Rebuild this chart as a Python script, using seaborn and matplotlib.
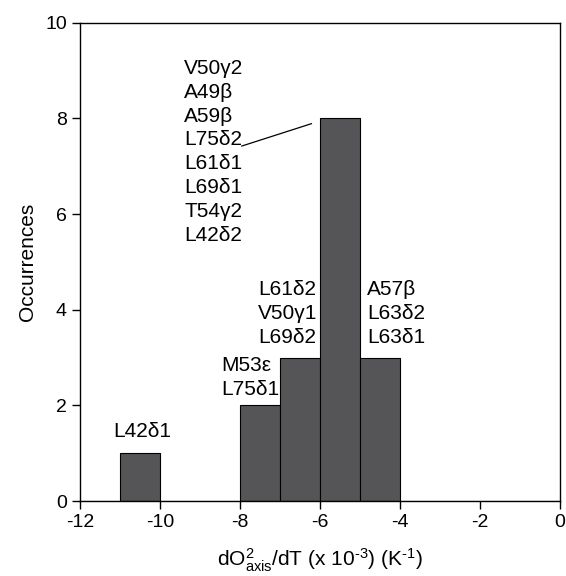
import numpy as np
import pandas as pd
import matplotlib
matplotlib.use("Agg")
import matplotlib.pyplot as plt
import seaborn as sns

# ---- data ----
bin_centers = [-10.5, -7.5, -6.5, -5.5, -4.5]
counts = [1, 2, 3, 8, 3]
bin_edges = list(range(-12, 1))
x_ticks = [-12, -10, -8, -6, -4, -2, 0]
y_ticks = [0, 2, 4, 6, 8, 10]

label_l42 = ["L42\u03b41"]
label_m53 = ["M53\u03b5", "L75\u03b41"]
label_l61 = ["L61\u03b42", "V50\u03b31", "L69\u03b42"]
label_main = ["V50\u03b32", "A49\u03b2", "A59\u03b2", "L75\u03b42",
              "L61\u03b41", "L69\u03b41", "T54\u03b32", "L42\u03b42"]
label_a57 = ["A57\u03b2", "L63\u03b42", "L63\u03b41"]

df = pd.DataFrame({"x": bin_centers, "n": counts})

sns.set_style("ticks")
plt.rcParams["font.family"] = ["Liberation Sans", "DejaVu Sans"]
plt.rcParams["axes.unicode_minus"] = False
plt.rcParams["mathtext.fontset"] = "custom"
plt.rcParams["mathtext.rm"] = "Liberation Sans"
plt.rcParams["mathtext.it"] = "Liberation Sans"
plt.rcParams["text.color"] = "black"
plt.rcParams["axes.labelcolor"] = "black"
plt.rcParams["xtick.color"] = "black"
plt.rcParams["ytick.color"] = "black"

fig = plt.figure(figsize=(5.66, 5.76), dpi=100)
ax = fig.add_axes([80 / 566, 1 - 501 / 576, 480 / 566, (501 - 22.7) / 576])

sns.histplot(data=df, x="x", weights="n", bins=bin_edges, ax=ax,
             color="#555557", edgecolor="black", linewidth=0.8, alpha=1)

ax.set_xlim(-12, 0)
ax.set_ylim(0, 10)
ax.set_xticks(x_ticks)
ax.set_yticks(y_ticks)
ax.tick_params(direction="out", length=6, width=1, labelsize=14,
               color="black", labelcolor="black")
for s in ax.spines.values():
    s.set_visible(True)
    s.set_linewidth(1.0)
    s.set_color("black")

ax.set_ylabel("Occurrences", fontsize=15, labelpad=6)
ax.set_xlabel("dO$\\mathregular{^{2}_{axis}}$/dT (x 10$\\mathregular{^{\u20103}}$) (K$\\mathregular{^{\u20101}}$)",
              fontsize=15, labelpad=11)

fs = 15
ls = 1.32
ax.text(-10.45, 1.25, "\n".join(label_l42), ha="center", va="bottom", fontsize=fs)
ax.text(-8.47, 2.58, "\n".join(label_m53), ha="left", va="center", fontsize=fs,
        linespacing=ls)
ax.text(-7.55, 3.92, "\n".join(label_l61), ha="left", va="center", fontsize=fs,
        linespacing=ls)
ax.text(-9.39, 7.30, "\n".join(label_main), ha="left", va="center", fontsize=fs,
        linespacing=ls)
ax.text(-4.83, 3.92, "\n".join(label_a57), ha="left", va="center", fontsize=fs,
        linespacing=ls)
ax.plot([-7.96, -6.21], [7.42, 7.89], color="black", linewidth=0.9)

fig.savefig("out.png", dpi=100)
